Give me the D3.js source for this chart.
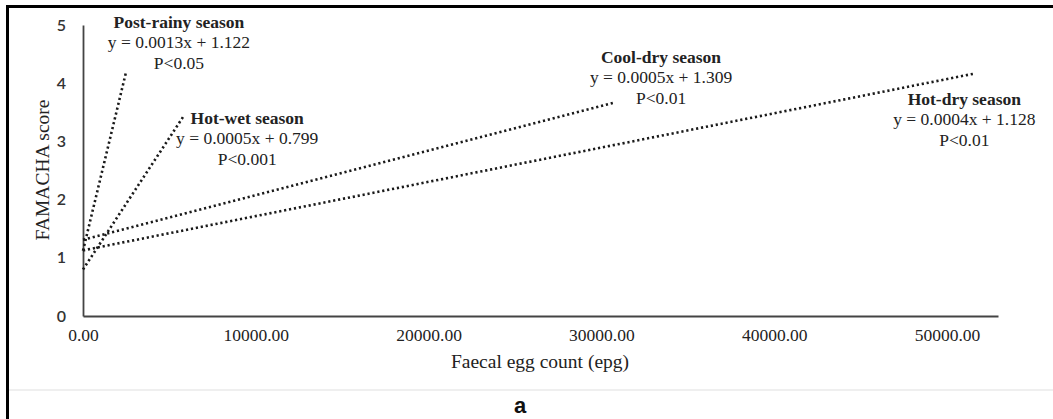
<!DOCTYPE html>
<html>
<head>
<meta charset="utf-8">
<script src="https://cdn.jsdelivr.net/npm/d3@7"></script>
<style>
  html, body { margin: 0; padding: 0; background: #fff; }
  svg { display: block; }
</style>
</head>
<body>
<svg id="chart" width="1053" height="419"></svg>
<script>
// ---- data ----
const seasons = ["Post-rainy season", "Hot-wet season", "Cool-dry season", "Hot-dry season"];
const equations = ["y = 0.0013x + 1.122", "y = 0.0005x + 0.799", "y = 0.0005x + 1.309", "y = 0.0004x + 1.128"];
const pValues = ["P<0.05", "P<0.001", "P<0.01", "P<0.01"];
// trendline end points: [x start, x end] and [y start, y end]
const lineX = [[0, 2490], [0, 5790], [0, 30670], [0, 51500]];
const lineY = [[1.122, 4.19], [0.799, 3.42], [1.309, 3.66], [1.128, 4.16]];
// label anchors in data units (centre x, first line y)
const labelX = [5550, 9500, 33450, 51000];
const labelY = [4.95, 3.3, 4.35, 3.63];
const xTicks = [0, 10000, 20000, 30000, 40000, 50000];
const yTicks = [0, 1, 2, 3, 4, 5];
const xTitle = "Faecal egg count (epg)";
const yTitle = "FAMACHA score";
const panelLabel = "a";

// ---- drawing ----
const svg = d3.select("#chart");
const x = d3.scaleLinear().domain([0, 52950]).range([83, 998]);
const y = d3.scaleLinear().domain([0, 5]).range([316, 25]);

// frame
svg.append("line").attr("x1", 7).attr("x2", 1053).attr("y1", 6.5).attr("y2", 6.5)
  .attr("stroke", "#000").attr("stroke-width", 3);
svg.append("line").attr("x1", 7.5).attr("x2", 7.5).attr("y1", 5).attr("y2", 419)
  .attr("stroke", "#000").attr("stroke-width", 3);
svg.append("line").attr("x1", 9).attr("x2", 1053).attr("y1", 390).attr("y2", 390)
  .attr("stroke", "#efefef").attr("stroke-width", 2);

// axes
const xAxis = svg.append("g").attr("transform", "translate(0,316)")
  .call(d3.axisBottom(x).tickValues(xTicks).tickFormat(d3.format(".2f")).tickSize(0).tickPadding(13));
xAxis.select(".domain").attr("stroke", "#444").attr("stroke-width", 1.8);
xAxis.selectAll("text").attr("font-family", "'Liberation Serif', serif").attr("font-size", 17.5).attr("fill", "#222");

const yAxis = svg.append("g").attr("transform", "translate(83,0)")
  .call(d3.axisLeft(y).tickValues(yTicks).tickFormat(d3.format("d")).tickSize(0).tickPadding(17));
yAxis.select(".domain").attr("stroke", "#444").attr("stroke-width", 1.8);
yAxis.selectAll("text").attr("font-family", "Lato, 'Open Sans', sans-serif").attr("font-size", 16)
  .attr("font-weight", 600).attr("fill", "#333");

// titles
svg.append("text").attr("x", 540).attr("y", 368).attr("text-anchor", "middle")
  .attr("font-family", "'Liberation Serif', serif").attr("font-size", 19.5).attr("fill", "#222").text(xTitle);
svg.append("text").attr("transform", "translate(49,170) rotate(-90)").attr("text-anchor", "middle")
  .attr("font-family", "'Liberation Serif', serif").attr("font-size", 19.5).attr("fill", "#222").text(yTitle);
svg.append("text").attr("x", 520).attr("y", 413).attr("text-anchor", "middle")
  .attr("font-family", "'Liberation Sans', Arial, sans-serif").attr("font-weight", "bold")
  .attr("font-size", 22).attr("fill", "#111").text(panelLabel);

// trendlines
const line = d3.line().x(d => x(d[0])).y(d => y(d[1]));
seasons.forEach((s, i) => {
  const pts = lineX[i].map((v, j) => [v, lineY[i][j]]);
  svg.append("path").attr("d", line(pts)).attr("fill", "none")
    .attr("stroke", "#1a1a1a").attr("stroke-width", 2.6)
    .attr("stroke-dasharray", "2.2 2.8");
});

// annotations
seasons.forEach((s, i) => {
  const g = svg.append("g").attr("font-family", "'Liberation Serif', serif")
    .attr("font-size", 17.5).attr("fill", "#222").attr("text-anchor", "middle");
  const cx = x(labelX[i]), cy = y(labelY[i]);
  g.append("text").attr("x", cx).attr("y", cy).attr("font-weight", "bold").text(s);
  g.append("text").attr("x", cx).attr("y", cy + 20.5).text(equations[i]);
  g.append("text").attr("x", cx).attr("y", cy + 41).text(pValues[i]);
});
</script>
</body>
</html>
